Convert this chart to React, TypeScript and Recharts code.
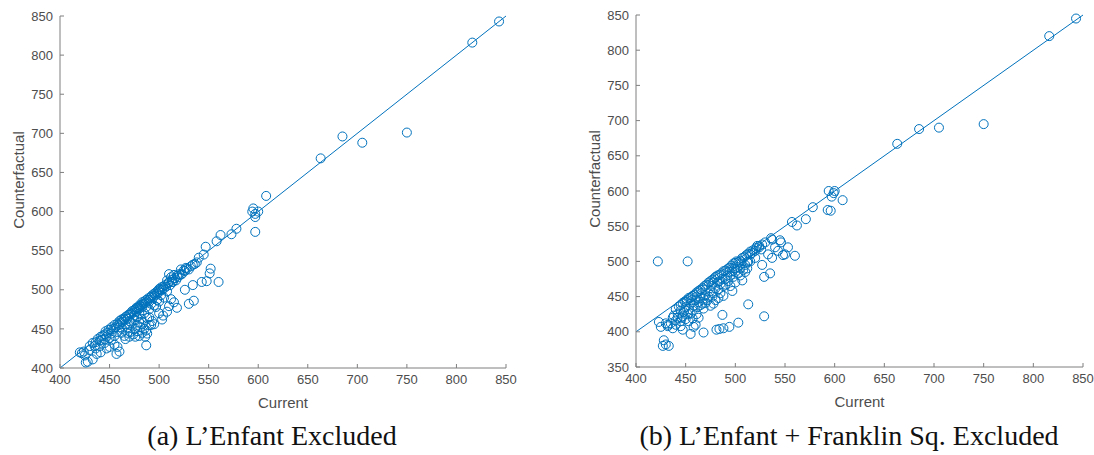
import { ScatterChart, Scatter, XAxis, YAxis, ReferenceLine } from "recharts";

// ── Data: (a) L'Enfant excluded ───────────────────────────────────────────
const currentA = [
  // high end / near line
  843, 816, 750, 705, 685, 663, 608, 600, 597, 595, 594, 597, 597, 578, 573, 562, 558,
  547, 545, 540, 538, 536, 532, 527, 525, 522, 520, 518, 515, 512, 510, 513, 508,
  // lower branch
  560, 552, 551, 548, 543, 535, 530, 526, 534, 518, 515, 512, 510, 508, 503, 504, 500,
  497, 492, 490, 488, 487, 485, 483, 480, 478, 476, 474, 471, 470, 468, 466, 465, 462,
  460, 458, 457, 455, 452, 450, 447, 445, 441, 437, 435, 433, 430, 428, 426, 425, 422,
  420, 424,
  // second cluster
  472, 475, 478, 481, 484, 487, 490, 493, 486, 480, 476, 470, 468, 482, 488, 495,
  // main band
  430, 433, 436, 438, 440, 441, 443, 445, 446, 448, 449, 451, 452, 454, 455, 456, 458,
  459, 460, 461, 462, 463, 464, 465, 466, 467, 468, 469, 470, 471, 472, 473, 474, 475,
  476, 477, 477, 478, 479, 480, 480, 481, 482, 483, 483, 484, 485, 486, 487, 488, 489,
  490, 491, 492, 493, 494, 495, 496, 497, 498, 499, 500, 500, 501, 502, 503, 504, 505,
  506, 507, 509, 510, 511, 513, 514, 516, 517, 519, 521, 523, 526, 528, 530, 534,
  // in between
  470, 475, 478, 485, 490, 495, 498, 500, 505, 463, 458, 455, 450, 445, 440, 436,
  480, 487, 492, 502, 508, 466, 460, 452, 447, 442,
];
const counterfactualA = [
  843, 816, 701, 688, 696, 668, 620, 600, 597, 604, 600, 593, 574, 578, 571, 570, 562,
  555, 545, 541, 535, 533, 530, 528, 525, 526, 520, 518, 519, 516, 520, 510, 512,
  510, 527, 521, 511, 510, 486, 482, 500, 506, 477, 484, 488, 479, 472, 462, 467, 470,
  478, 455, 465, 464, 429, 450, 445, 441, 455, 450, 443, 446, 440, 452, 437, 441, 445,
  421, 427, 418, 430, 436, 427, 425, 432, 420, 418, 428, 411, 423, 408, 407, 416, 419,
  420, 421,
  458, 462, 447, 452, 458, 448, 455, 460, 440, 458, 440, 455, 445, 463, 444, 456,
  428, 432, 433, 437, 435, 440, 441, 443, 447, 445, 449, 449, 452, 450, 455, 452, 457,
  455, 460, 458, 462, 459, 463, 462, 465, 466, 463, 468, 468, 470, 469, 473, 471, 474,
  475, 472, 477, 476, 478, 476, 480, 479, 481, 478, 484, 482, 485, 483, 487, 485, 489,
  487, 490, 491, 493, 490, 495, 493, 497, 495, 499, 497, 501, 500, 503, 500, 504, 502,
  506, 504, 508, 510, 506, 513, 510, 515, 512, 516, 519, 520, 524, 527, 526, 532,
  460, 467, 465, 470, 475, 480, 487, 485, 490, 450, 446, 441, 438, 437, 428, 425,
  470, 478, 482, 493, 498, 456, 452, 444, 440, 436,
];

// ── Data: (b) L'Enfant + Franklin Sq. excluded ────────────────────────────
const currentB = [
  // high end
  843, 816, 750, 705, 685, 663, 608, 600, 599, 594, 597, 596, 593, 578, 571, 562, 557,
  // outliers + bottom row
  422, 452, 428, 430, 427, 433, 423, 425, 529, 503, 494, 488, 484, 481, 468, 455, 513,
  487, 460, 458, 447, 445, 440, 437, 432,
  // lower spread
  560, 553, 550, 548, 546, 545, 540, 537, 535, 529, 527, 533, 543, 537, 526, 524, 522,
  520, 517, 515, 513, 512, 510, 507, 505, 500, 497, 495, 490, 488, 485, 483, 480, 478,
  475, 470, 468, 465, 463, 461, 457, 455, 453, 450, 447, 445, 442, 440, 437, 435, 432,
  430,
  // band near line
  440, 443, 445, 447, 449, 451, 453, 455, 457, 459, 461, 463, 465, 467, 469, 471, 473,
  475, 477, 479, 480, 482, 484, 486, 488, 490, 492, 494, 496, 498, 500, 501, 503, 505,
  507, 509, 511, 513, 515, 518, 521, 524, 527, 530, 536,
  // middle fill
  445, 450, 455, 460, 465, 470, 475, 480, 485, 490, 495, 500, 505, 510, 515, 520, 448,
  453, 458, 463, 468, 473, 478, 483, 488, 493, 498, 503, 508, 512, 442, 438, 446, 452,
  457, 462, 467, 472, 477, 482, 487, 492, 497, 502, 506, 476, 470, 466, 461, 456, 451,
  478, 484, 494, 499,
];
const counterfactualB = [
  845, 820, 695, 690, 688, 667, 587, 600, 597, 600, 592, 572, 573, 577, 560, 551, 556,
  500, 500, 388, 382, 380, 380, 414, 407, 422, 413, 407, 405, 404, 403, 399, 397, 439,
  424, 410, 407, 403, 408, 410, 405, 408,
  508, 520, 510, 509, 527, 530, 520, 531, 483, 478, 495, 510, 515, 505, 517, 520, 522,
  515, 512, 510, 500, 490, 485, 473, 480, 470, 458, 465, 467, 451, 455, 448, 445, 440,
  437, 441, 433, 438, 420, 425, 419, 426, 415, 418, 422, 415, 420, 416, 420, 412, 410,
  412,
  432, 436, 438, 441, 443, 445, 448, 449, 451, 453, 456, 458, 460, 462, 465, 467, 470,
  472, 474, 476, 478, 480, 481, 483, 486, 487, 489, 491, 494, 497, 498, 500, 499, 501,
  505, 506, 509, 511, 514, 516, 519, 522, 524, 527, 533,
  430, 435, 440, 445, 448, 452, 458, 462, 468, 475, 480, 485, 490, 495, 500, 505, 428,
  432, 437, 442, 447, 450, 455, 460, 465, 472, 478, 483, 488, 499, 425, 423, 420, 425,
  430, 435, 440, 445, 450, 470, 475, 480, 486, 492, 497, 465, 460, 455, 450, 445, 442,
  470, 472, 485, 490,
];

const xTicks = [400, 450, 500, 550, 600, 650, 700, 750, 800, 850];
const yTicksA = [400, 450, 500, 550, 600, 650, 700, 750, 800, 850];
const yTicksB = [350, 400, 450, 500, 550, 600, 650, 700, 750, 800, 850];

const BLUE = "#0072BD";
const AXIS = "#7f7f7f";
const TEXT = "#4d4d4d";
const SANS = "'Liberation Sans', Arial, Helvetica, sans-serif";

const toPoints = (xs: number[], ys: number[]) => xs.map((x, i) => ({ x, y: ys[i] }));

// open circle marker, MATLAB-style
function Ring(props: any) {
  const { cx, cy } = props;
  if (cx == null || cy == null) return null;
  return <circle cx={cx} cy={cy} r={4.5} fill="none" stroke={BLUE} strokeWidth={1} />;
}

const xTitle = (props: any) => {
  const { x, y, width } = props.viewBox;
  return (
    <text x={x + width / 2} y={y + 40} textAnchor="middle" fill={TEXT} fontSize={15} fontFamily={SANS}>
      Current
    </text>
  );
};

const yTitle = (props: any) => {
  const { x, y, width, height } = props.viewBox;
  const cx = x + width - 42;
  const cy = y + height / 2 - 12;
  return (
    <text
      x={cx}
      y={cy}
      transform={`rotate(-90 ${cx} ${cy})`}
      textAnchor="middle"
      dominantBaseline="central"
      fill={TEXT}
      fontSize={15}
      fontFamily={SANS}
    >
      Counterfactual
    </text>
  );
};

function Panel({ data, yTicks, yMin, width, margin }: {
  data: { x: number; y: number }[];
  yTicks: number[];
  yMin: number;
  width: number;
  margin: { top: number; right: number; bottom: number; left: number };
}) {
  const tick = { fill: TEXT, fontSize: 13, fontFamily: SANS };
  return (
    <ScatterChart width={width} height={420} margin={margin} style={{ overflow: "visible" }}>
      <XAxis
        type="number"
        dataKey="x"
        domain={[400, 850]}
        ticks={xTicks}
        interval={0}
        height={40}
        tickSize={-4}
        tickMargin={11}
        stroke={AXIS}
        tick={tick}
        label={xTitle}
      />
      <YAxis
        type="number"
        dataKey="y"
        domain={[yMin, 850]}
        ticks={yTicks}
        interval={0}
        width={40}
        tickSize={-4}
        tickMargin={11}
        stroke={AXIS}
        tick={tick}
        label={yTitle}
      />
      <ReferenceLine
        segment={[{ x: 400, y: 400 }, { x: 850, y: 850 }]}
        stroke={BLUE}
        strokeWidth={1}
        ifOverflow="visible"
      />
      <Scatter data={data} shape={Ring} isAnimationActive={false} />
    </ScatterChart>
  );
}

const captionStyle: React.CSSProperties = {
  position: "absolute",
  top: 420,
  width: 500,
  textAlign: "center",
  fontFamily: "'Liberation Serif', 'Times New Roman', serif",
  fontSize: 28,
  color: "#111",
  whiteSpace: "nowrap",
};

export default function App() {
  return (
    <div style={{ position: "absolute", left: 0, top: 0, width: 1094, height: 455, background: "#fff", overflow: "hidden" }}>
      <div style={{ position: "absolute", left: 0, top: 0 }}>
        <Panel
          data={toPoints(currentA, counterfactualA)}
          yTicks={yTicksA}
          yMin={400}
          width={540}
          margin={{ top: 16, right: 34, bottom: 12, left: 20 }}
        />
      </div>
      <div style={{ position: "absolute", left: 576, top: 0 }}>
        <Panel
          data={toPoints(currentB, counterfactualB)}
          yTicks={yTicksB}
          yMin={350}
          width={518}
          margin={{ top: 15, right: 11, bottom: 13, left: 20 }}
        />
      </div>
      <div style={{ ...captionStyle, left: 272 - 250 }}>(a) L’Enfant Excluded</div>
      <div style={{ ...captionStyle, left: 849 - 250 }}>(b) L’Enfant + Franklin Sq. Excluded</div>
    </div>
  );
}
